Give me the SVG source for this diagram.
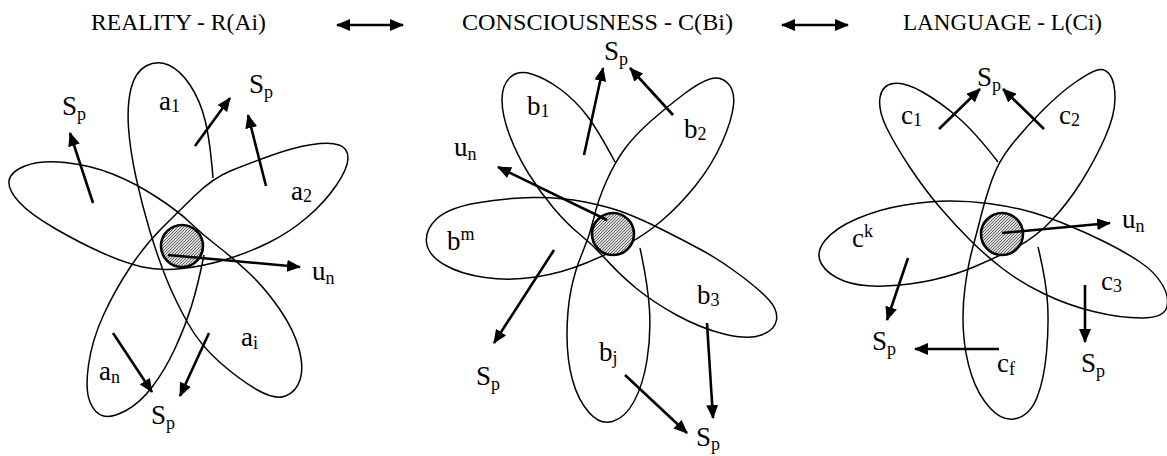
<svg xmlns="http://www.w3.org/2000/svg" width="1167" height="456" viewBox="0 0 1167 456">
<style>
.curve{fill:none;stroke:#000;stroke-width:1.5;stroke-linejoin:round}
.core{fill:url(#hatch);stroke:#000;stroke-width:2.6}
.arr{stroke:#000;stroke-width:2.6;fill:none;marker-end:url(#ah)}
.dbl{stroke:#000;stroke-width:2.6;fill:none;marker-start:url(#ah);marker-end:url(#ah)}
.head{font-family:"Liberation Serif","Times New Roman",serif;font-size:23px;fill:#000}
.lbl{font-family:"Liberation Serif","Times New Roman",serif;font-size:27px;fill:#000}
.sub{font-size:18px}
</style>
<defs>
<pattern id="hatch" patternUnits="userSpaceOnUse" width="3" height="3">
<rect width="3" height="3" fill="#d9d9d9"/>
<path d="M0,3 L3,0 M-1,1 L1,-1 M2,4 L4,2" stroke="#4d4d4d" stroke-width="0.8"/>
</pattern>
<marker id="ah" viewBox="0 0 14 12" refX="13" refY="6" markerWidth="14" markerHeight="12" markerUnits="userSpaceOnUse" orient="auto-start-reverse">
<path d="M0,0 L14,6 L0,12 z" fill="#000"/>
</marker>
</defs>
<rect width="1167" height="456" fill="#fff"/>

<g id="headers">
<text class="head" x="91" y="30" textLength="175" lengthAdjust="spacingAndGlyphs">REALITY - R(Ai)</text>
<text class="head" x="462" y="30" textLength="271" lengthAdjust="spacingAndGlyphs">CONSCIOUSNESS - C(Bi)</text>
<text class="head" x="903" y="30" textLength="199" lengthAdjust="spacingAndGlyphs">LANGUAGE - L(Ci)</text>
</g>

<g id="reality">
<path class="curve" d="M213,178 Q210,140 205,120 Q200,100 190,85 Q180,70 168.5,65 Q157,60 146,66 Q135,72 131,88.5 Q127,105 128.5,127.5 Q130,150 136,177.5 Q142,205 150,231.5 Q158,258 166.5,279 Q175,300 187.5,322.5 Q200,345 220,362.5 Q240,380 257.5,390 Q275,400 285.5,396 Q296,392 300,380 Q304,368 299,349 Q294,330 279.5,309 Q265,288 249,273 Q233,258 218,246.5 Q203,235 190.5,223 Q178,211 156.5,197 Q135,183 112.5,174 Q90,165 65,162.5 Q40,160 25,166 Q10,172 9,181 Q8,190 19,202 Q30,214 55,228.5 Q80,243 102.5,253 Q125,263 142.5,267 Q160,271 182.5,268.5 Q205,266 227.5,259 Q250,252 270,242 Q290,232 307.5,217 Q325,202 336.5,185 Q348,168 348,158 Q348,148 339,145 Q330,142 312.5,144.5 Q295,147 272.5,155 Q250,163 231.5,170.5 Q213,178 195.5,195 Q178,212 161.5,228.5 Q145,245 130,267.5 Q115,290 103.5,315 Q92,340 88.5,365 Q85,390 90,402 Q95,414 103.5,416 Q112,418 126,410.5 Q140,403 152.5,386.5 Q165,370 175,348.5 Q185,327 191.5,306 Q198,285 204,255"/>
<circle class="core" cx="182" cy="246" r="21"/>
<text class="lbl" x="62" y="115">S<tspan class="sub" dy="5">p</tspan></text>
<text class="lbl" x="159" y="110">a<tspan class="sub" dy="2">1</tspan></text>
<text class="lbl" x="249" y="93">S<tspan class="sub" dy="5">p</tspan></text>
<text class="lbl" x="291" y="200">a<tspan class="sub" dy="2">2</tspan></text>
<text class="lbl" x="312" y="280">u<tspan class="sub" dy="4">n</tspan></text>
<text class="lbl" x="241" y="346">a<tspan class="sub" dy="3">i</tspan></text>
<text class="lbl" x="99" y="380">a<tspan class="sub" dy="3">n</tspan></text>
<text class="lbl" x="151" y="424">S<tspan class="sub" dy="5">p</tspan></text>
</g>

<g id="consciousness">
<path class="curve" d="M615,162 Q598,130 586.5,115 Q575,100 560,89 Q545,78 531.5,74 Q518,70 510,77.5 Q502,85 502,100 Q502,115 509.5,135 Q517,155 528.5,173.5 Q540,192 553.5,208 Q567,224 580,234.5 Q593,245 606.5,260 Q620,275 636.5,288.5 Q653,302 676.5,315 Q700,328 724,334 Q748,340 761.5,335 Q775,330 776.5,320 Q778,310 769,300 Q760,290 740,275 Q720,260 701.5,250 Q683,240 663,230 Q643,220 626.5,213.5 Q610,207 585,202 Q560,197 532.5,197.5 Q505,198 476.5,203 Q448,208 436.5,219 Q425,230 426.5,242.5 Q428,255 444,264.5 Q460,274 485,277.5 Q510,281 536,277 Q562,273 586,263 Q610,253 627.5,244 Q645,235 662.5,220 Q680,205 696,185 Q712,165 722,142.5 Q732,120 733.5,105 Q735,90 727.5,83 Q720,76 710,79 Q700,82 684,94 Q668,106 651.5,120.5 Q635,135 625,148.5 Q615,162 606.5,181 Q598,200 594,217.5 Q590,235 582.5,252.5 Q575,270 571,290 Q567,310 567,335 Q567,360 572.5,380 Q578,400 589,412.5 Q600,425 612.5,421.5 Q625,418 634,401.5 Q643,385 647,360 Q651,335 649.5,310 Q648,285 640,248"/>
<circle class="core" cx="613" cy="234" r="21"/>
<text class="lbl" x="604" y="60">S<tspan class="sub" dy="5">p</tspan></text>
<text class="lbl" x="527" y="115">b<tspan class="sub" dy="2">1</tspan></text>
<text class="lbl" x="684" y="138">b<tspan class="sub" dy="2">2</tspan></text>
<text class="lbl" x="454" y="156">u<tspan class="sub" dy="4">n</tspan></text>
<text class="lbl" x="447" y="250">b<tspan class="sub" dy="-10">m</tspan></text>
<text class="lbl" x="697" y="304">b<tspan class="sub" dy="2">3</tspan></text>
<text class="lbl" x="599" y="361">b<tspan class="sub" dy="3">j</tspan></text>
<text class="lbl" x="476" y="385">S<tspan class="sub" dy="5">p</tspan></text>
<text class="lbl" x="696" y="446">S<tspan class="sub" dy="4">p</tspan></text>
</g>

<g id="language">
<path class="curve" d="M998,162 Q975,132 957.5,117 Q940,102 922.5,92 Q905,82 893.5,83.5 Q882,85 880,97.5 Q878,110 886.5,127.5 Q895,145 910,167.5 Q925,190 940,207.5 Q955,225 970,240 Q985,255 1002.5,268.5 Q1020,282 1043.5,293.5 Q1067,305 1093.5,311.5 Q1120,318 1141.5,318 Q1163,318 1166.5,308 Q1170,298 1162.5,285 Q1155,272 1140,262 Q1125,252 1105,242 Q1085,232 1062.5,223 Q1040,214 1023.5,210 Q1007,206 988.5,203.5 Q970,201 950,201 Q930,201 905,205 Q880,209 857.5,218.5 Q835,228 825,240.5 Q815,253 821.5,264 Q828,275 844,281 Q860,287 885,286 Q910,285 932.5,280 Q955,275 975,266.5 Q995,258 1015,248 Q1035,238 1051.5,220.5 Q1068,203 1081.5,181.5 Q1095,160 1105,137.5 Q1115,115 1115,98.5 Q1115,82 1110,75 Q1105,68 1097.5,70 Q1090,72 1075,82.5 Q1060,93 1042.5,110.5 Q1025,128 1011.5,145 Q998,162 991.5,181 Q985,200 981,216 Q977,232 972.5,248.5 Q968,265 965,287.5 Q962,310 963.5,332.5 Q965,355 971.5,375 Q978,395 990.5,408.5 Q1003,422 1016.5,418.5 Q1030,415 1037,397.5 Q1044,380 1046.5,352.5 Q1049,325 1047.5,302.5 Q1046,280 1038,247"/>
<circle class="core" cx="1002" cy="234" r="21"/>
<text class="lbl" x="977" y="86">S<tspan class="sub" dy="5">p</tspan></text>
<text class="lbl" x="901" y="124">c<tspan class="sub" dy="2">1</tspan></text>
<text class="lbl" x="1059" y="124">c<tspan class="sub" dy="2">2</tspan></text>
<text class="lbl" x="852" y="247">c<tspan class="sub" dy="-10">k</tspan></text>
<text class="lbl" x="1122" y="228">u<tspan class="sub" dy="4">n</tspan></text>
<text class="lbl" x="1101" y="290">c<tspan class="sub" dy="2">3</tspan></text>
<text class="lbl" x="872" y="350">S<tspan class="sub" dy="5">p</tspan></text>
<text class="lbl" x="997" y="372">c<tspan class="sub" dy="3">f</tspan></text>
<text class="lbl" x="1081" y="372">S<tspan class="sub" dy="5">p</tspan></text>
</g>

<g id="connectors">
<line class="dbl" x1="337" y1="25" x2="403" y2="25"/>
<line class="dbl" x1="782" y1="25" x2="848" y2="25"/>
<line class="arr" x1="93" y1="203" x2="70" y2="133"/>
<line class="arr" x1="195" y1="146" x2="230" y2="98"/>
<line class="arr" x1="266" y1="186" x2="248" y2="115"/>
<line class="arr" x1="168" y1="255" x2="300" y2="267"/>
<line class="arr" x1="113" y1="333" x2="152" y2="392"/>
<line class="arr" x1="209" y1="333" x2="180" y2="396"/>
<line class="arr" x1="584" y1="155" x2="603" y2="68"/>
<line class="arr" x1="673" y1="115" x2="630" y2="68"/>
<line class="arr" x1="607" y1="220" x2="498" y2="167"/>
<line class="arr" x1="554" y1="250" x2="494" y2="343"/>
<line class="arr" x1="707" y1="323" x2="713" y2="418"/>
<line class="arr" x1="625" y1="375" x2="687" y2="433"/>
<line class="arr" x1="939" y1="129" x2="980" y2="89"/>
<line class="arr" x1="1044" y1="129" x2="1003" y2="89"/>
<line class="arr" x1="1002" y1="233" x2="1110" y2="223"/>
<line class="arr" x1="908" y1="258" x2="887" y2="320"/>
<line class="arr" x1="1085" y1="285" x2="1085" y2="342"/>
<line class="arr" x1="999" y1="349" x2="915" y2="349"/>
</g>
</svg>
